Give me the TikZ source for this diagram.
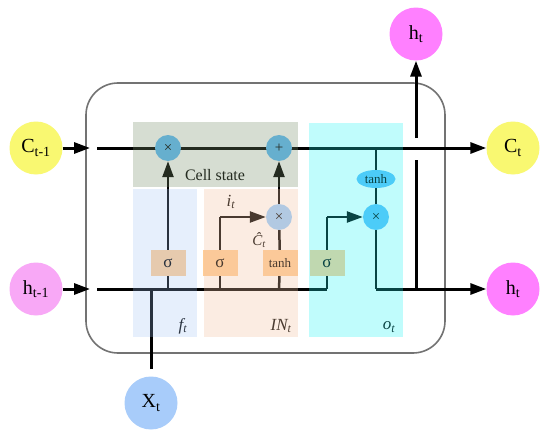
\documentclass[tikz,border=0pt]{standalone}
\usepackage{fontspec}
\setmainfont{Liberation Serif}
\usetikzlibrary{arrows.meta,shapes.geometric}
\definecolor{cyel}{RGB}{249,248,113}
\definecolor{cpink}{RGB}{248,168,246}
\definecolor{cmag}{RGB}{255,128,255}
\definecolor{cxt}{RGB}{168,204,250}
\definecolor{cblue}{RGB}{95,189,250}
\definecolor{cibl}{RGB}{150,205,255}
\definecolor{corange}{RGB}{255,205,150}
\definecolor{cframe}{RGB}{115,115,115}
\definecolor{ovcell}{RGB}{120,143,107}
\definecolor{ovf}{RGB}{161,196,246}
\definecolor{ovin}{RGB}{245,195,160}
\definecolor{ovo}{RGB}{30,245,245}
\pgfdeclarelayer{bg}
\pgfdeclarelayer{fg}
\pgfsetlayers{bg,main,fg}
\begin{document}
\begin{tikzpicture}[x=1pt,y=-1pt,
  bub/.style={circle, minimum size=53pt, inner sep=0pt, font=\fontsize{20}{22}\selectfont},
  opc/.style={circle, fill=cblue, minimum size=26pt, inner sep=0pt, font=\fontsize{15}{15}\selectfont},
  opi/.style={circle, fill=cibl, minimum size=26pt, inner sep=0pt, font=\fontsize{15}{15}\selectfont},
  tanhell/.style={ellipse, fill=cblue, minimum width=39pt, minimum height=18pt, inner sep=0pt, font=\fontsize{13}{13}\selectfont},
  gbox/.style={rectangle, fill=corange, minimum width=35pt, minimum height=26pt, inner sep=0pt, font=\fontsize{17}{17}\selectfont},
  tbox/.style={gbox, font=\fontsize{13}{13}\selectfont},
  mainln/.style={line width=3pt, black},
  inln/.style={line width=2.5pt, black},
  tip/.style={-{Triangle[length=16pt,width=11pt]}},
  lbl/.style={inner sep=0pt, font=\fontsize{17}{17}\selectfont\itshape},
  ov/.style={draw=none, fill opacity=#1}
]
\useasboundingbox (0,0) rectangle (550,439);

% outer nodes
\node[bub, fill=cyel] (cprev) at (36,148) {C\textsubscript{t-1}};
\node[bub, fill=cpink] (hprev) at (36,289) {h\textsubscript{t-1}};
\node[bub, fill=cxt] (xt) at (151,403) {X\textsubscript{t}};
\node[bub, fill=cmag] (htop) at (416,34) {h\textsubscript{t}};
\node[bub, fill=cyel] (ct) at (513,148) {C\textsubscript{t}};
\node[bub, fill=cmag] (hout) at (513,289) {h\textsubscript{t}};

% operators and gates
\node[opc] (fx) at (168,148) {×};
\node[opc] (plus) at (279,148) {+};
\node[opi] (ix) at (279,217) {×};
\node[opc] (ox) at (376,217) {×};
\node[tanhell] (otanh) at (376,179) {tanh};
\node[gbox] (fs) at (168,263) {σ};
\node[gbox] (is) at (220,263) {σ};
\node[tbox] (gt) at (280,263) {tanh};
\node[gbox] (os) at (327,263) {σ};

% labels
\node[inner sep=0pt, font=\fontsize{16}{16}\selectfont] (lcell) at (215,175) {Cell state};
\node[lbl] (lf) at (183,326) {f\textsubscript{t}};
\node[lbl] (lin) at (281,326) {IN\textsubscript{t}};
\node[lbl] (lo) at (389,327) {o\textsubscript{t}};
\node[lbl] (li) at (231,202) {i\textsubscript{t}};
\node[inner sep=0pt, font=\fontsize{15}{15}\selectfont\itshape] (lch) at (259,240) {Ĉ\textsubscript{t}};

% coordinates
\coordinate (cin) at (90,148);
\coordinate (cstart) at (97,148);
\coordinate (hin) at (90,289);
\coordinate (hstart) at (97,289);
\coordinate (xj) at (151,289);
\coordinate (xe) at (151,369);
\coordinate (fj) at (168,289);
\coordinate (ij) at (220,289);
\coordinate (gj) at (279,289);
\coordinate (oj) at (327,289);
\coordinate (ibend) at (220,217);
\coordinate (obend) at (327,217);
\coordinate (ocell) at (376,148);
\coordinate (obot) at (376,289);
\coordinate (hj) at (416,289);
\coordinate (gapl) at (416,160);
\coordinate (gaph) at (416,138);

\begin{pgfonlayer}{bg}
  \fill[white] (0,0) rectangle (550,439);
  \draw[cframe, line width=1.6pt, rounded corners=32pt] (86,83) rectangle (445,353);
  % inputs
  \draw[mainln, tip] (cprev) -- (cin);
  \draw[mainln, tip] (hprev) -- (hin);
  % cell state line
  \draw[mainln, tip] (cstart) -- (ct);
  % hidden line
  \draw[mainln] (hstart) -- (oj);
  \draw[mainln] (xe) -- (xj);
  % forget gate
  \draw[inln] (fj) -- (fs);
  \draw[inln, tip] (fs) -- (fx);
  % input gate
  \draw[inln] (ij) -- (is) -- (ibend);
  \draw[inln, tip] (ibend) -- (ix);
  \draw[inln] (gj) -- (gt) -- (ix);
  \draw[inln, tip] (ix) -- (plus);
  % output gate
  \draw[inln] (oj) -- (os) -- (obend);
  \draw[inln, tip] (obend) -- (ox);
  \draw[inln] (ocell) -- (otanh) -- (ox) -- (obot);
  \draw[mainln, tip] (obot) -- (hout);
  % output up
  \draw[mainln] (hj) -- (gapl);
  \draw[mainln, tip] (gaph) -- (htop);
\end{pgfonlayer}

\begin{pgfonlayer}{fg}
  \fill[ovcell, ov=0.3] (133,122) rectangle (298,187);
  \fill[ovf, ov=0.26] (133,189) rectangle (197,337);
  \fill[ovin, ov=0.3] (204,189) rectangle (298,337);
  \fill[ovo, ov=0.28] (309,123) rectangle (403,337);
\end{pgfonlayer}
\end{tikzpicture}
\end{document}
